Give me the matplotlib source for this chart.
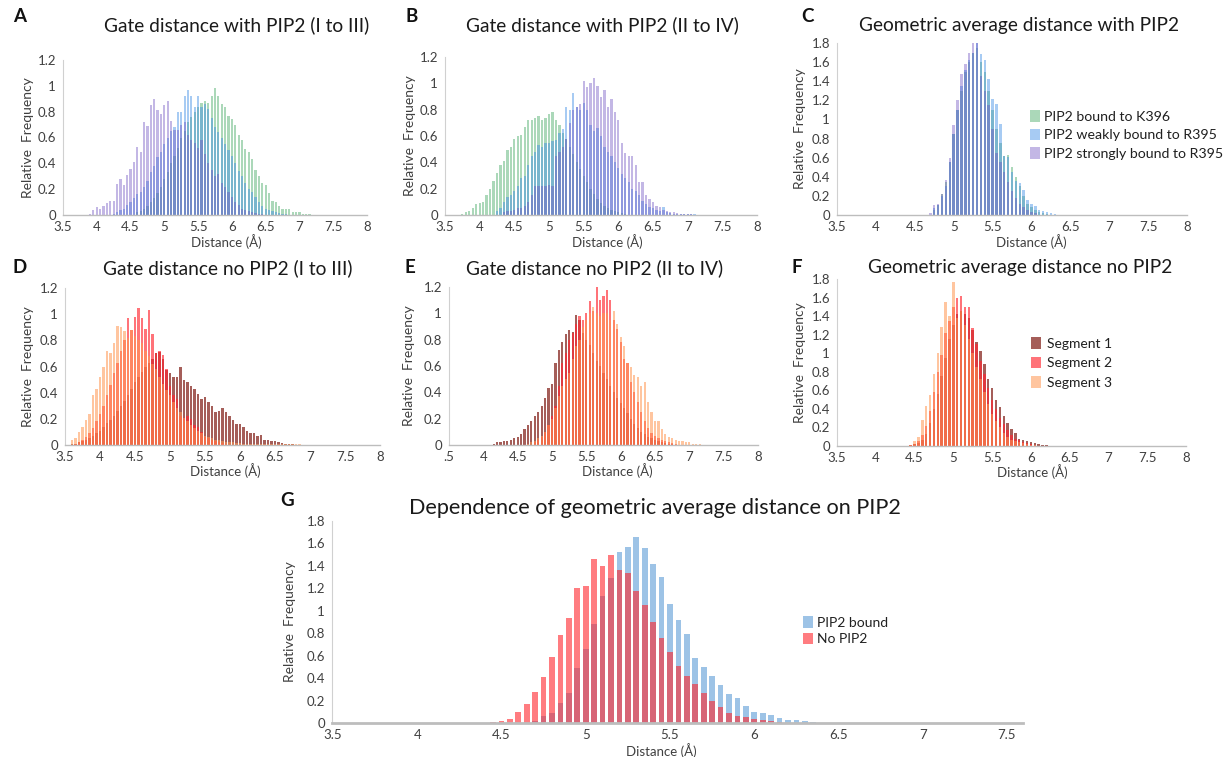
import numpy as np
import matplotlib
matplotlib.use('Agg')
import matplotlib.pyplot as plt

plt.rcParams['font.family'] = ['Lato', 'DejaVu Sans']

W, H = 1228, 757
BIN = 0.05

# ---------------- data (relative frequency per 0.05 Å bin) ----------------
x_ticks = [3.5, 4, 4.5, 5, 5.5, 6, 6.5, 7, 7.5, 8]
x_tick_labels = ['3.5', '4', '4.5', '5', '5.5', '6', '6.5', '7', '7.5', '8']
e_tick_labels = ['.5', '4', '4.5', '5', '5.5', '6', '6.5', '7', '7.5', '8']
g_ticks = [3.5, 4, 4.5, 5, 5.5, 6, 6.5, 7, 7.5]
g_tick_labels = ['3.5', '4', '4.5', '5', '5.5', '6', '6.5', '7', '7.5']
y12_ticks = [0, 0.2, 0.4, 0.6, 0.8, 1.0, 1.2]
y12_labels = ['0', '0.2', '0.4', '0.6', '0.8', '1', '1.2']
y18_ticks = [0, 0.2, 0.4, 0.6, 0.8, 1.0, 1.2, 1.4, 1.6, 1.8]
y18_labels = ['0', '0.2', '0.4', '0.6', '0.8', '1', '1.2', '1.4', '1.6', '1.8']

labels_pip2 = ['PIP2 bound to K396', 'PIP2 weakly bound to R395', 'PIP2 strongly bound to R395']
labels_seg = ['Segment 1', 'Segment 2', 'Segment 3']
labels_g = ['PIP2 bound', 'No PIP2']

# Panel A
A_k396_start = 4.60
A_k396 = [0.02, 0.03, 0.05, 0.07, 0.10, 0.13, 0.17, 0.22, 0.28, 0.33, 0.40, 0.46, 0.52, 0.60, 0.65,
          0.72, 0.76, 0.80, 0.84, 0.87, 0.88, 0.87, 0.92, 0.98, 0.92, 0.86, 0.84, 0.77, 0.74, 0.70,
          0.62, 0.58, 0.51, 0.49, 0.43, 0.35, 0.30, 0.25, 0.23, 0.17, 0.11, 0.10, 0.07, 0.05, 0.045,
          0.045, 0.025, 0.02, 0.02, 0.01, 0.01, 0.005]
A_weak_start = 4.25
A_weak = [0.01, 0.02, 0.04, 0.05, 0.08, 0.10, 0.13, 0.16, 0.18, 0.22, 0.26, 0.33, 0.38, 0.45, 0.49,
          0.55, 0.60, 0.65, 0.68, 0.80, 0.80, 0.92, 0.97, 0.92, 0.84, 0.92, 0.84, 0.86, 0.82, 0.75,
          0.68, 0.64, 0.60, 0.55, 0.50, 0.46, 0.40, 0.34, 0.30, 0.25, 0.20, 0.18, 0.14, 0.10, 0.07,
          0.05, 0.04, 0.03, 0.02, 0.015, 0.01, 0.01]
A_strong_start = 3.90
A_strong = [0.01, 0.04, 0.06, 0.05, 0.07, 0.09, 0.11, 0.11, 0.24, 0.28, 0.23, 0.31, 0.36, 0.41, 0.53,
            0.49, 0.72, 0.69, 0.85, 0.90, 0.81, 0.78, 0.85, 0.88, 0.73, 0.66, 0.66, 0.70, 0.72, 0.62,
            0.58, 0.56, 0.52, 0.58, 0.47, 0.40, 0.35, 0.30, 0.32, 0.25, 0.22, 0.18, 0.14, 0.10, 0.08,
            0.05, 0.04, 0.03, 0.02, 0.015, 0.01, 0.01]

# Panel B
B_k396_start = 3.75
B_k396 = [0.01, 0.02, 0.03, 0.05, 0.08, 0.09, 0.10, 0.15, 0.20, 0.26, 0.32, 0.38, 0.41, 0.49, 0.52,
          0.58, 0.60, 0.61, 0.67, 0.72, 0.72, 0.74, 0.75, 0.72, 0.74, 0.77, 0.78, 0.72, 0.68, 0.62,
          0.58, 0.52, 0.46, 0.40, 0.35, 0.30, 0.25, 0.20, 0.16, 0.12, 0.09, 0.07, 0.05, 0.04, 0.03,
          0.02, 0.015, 0.01]
B_weak_start = 4.25
B_weak = [0.03, 0.05, 0.10, 0.14, 0.15, 0.18, 0.22, 0.28, 0.30, 0.38, 0.45, 0.48, 0.53, 0.52, 0.55,
          0.55, 0.56, 0.57, 0.62, 0.65, 0.82, 0.80, 0.93, 0.82, 0.80, 0.85, 0.80, 0.68, 0.64, 0.66,
          0.60, 0.52, 0.48, 0.45, 0.40, 0.36, 0.31, 0.28, 0.25, 0.20, 0.18, 0.15, 0.11, 0.08, 0.06,
          0.05, 0.04, 0.03, 0.06, 0.02, 0.015, 0.01, 0.01, 0.008, 0.006, 0.005, 0.005, 0.004, 0.003,
          0.003, 0.002, 0.002, 0.002, 0.002, 0.002]
B_strong_start = 4.35
B_strong = [0.02, 0.03, 0.03, 0.04, 0.05, 0.05, 0.07, 0.10, 0.15, 0.22, 0.22, 0.22, 0.22, 0.23, 0.22,
            0.45, 0.48, 0.52, 0.58, 0.70, 0.80, 0.82, 0.84, 1.02, 0.97, 1.00, 1.04, 0.98, 0.90, 0.95,
            0.82, 0.88, 0.78, 0.72, 0.55, 0.47, 0.45, 0.45, 0.38, 0.25, 0.25, 0.15, 0.12, 0.10, 0.07,
            0.06, 0.04, 0.03, 0.02, 0.02, 0.015, 0.01, 0.01, 0.01, 0.005]

# Panel C
C_k396_start = 4.75
C_k396 = [0.05, 0.10, 0.22, 0.35, 0.55, 0.85, 1.10, 1.30, 1.50, 1.60, 1.70, 1.75, 1.60, 1.50, 1.30,
          1.10, 0.90, 0.75, 0.62, 0.63, 0.50, 0.40, 0.30, 0.20, 0.12, 0.08, 0.05, 0.03, 0.02, 0.01]
C_weak_start = 4.75
C_weak = [0.07, 0.10, 0.20, 0.30, 0.55, 0.85, 1.10, 1.35, 1.52, 1.62, 1.70, 1.82, 1.68, 1.62, 1.42,
          1.21, 1.16, 0.95, 0.62, 0.61, 0.45, 0.36, 0.33, 0.26, 0.16, 0.12, 0.09, 0.05, 0.04, 0.03,
          0.02, 0.01, 0.005]
C_strong_start = 4.70
C_strong = [0.02, 0.10, 0.11, 0.22, 0.37, 0.60, 0.94, 1.20, 1.48, 1.58, 1.70, 1.82, 1.82, 1.45, 1.30,
            1.15, 0.90, 0.65, 0.55, 0.45, 0.35, 0.25, 0.18, 0.12, 0.08, 0.05, 0.03, 0.02]

# Panel D
D_seg1_start = 3.60
D_seg1 = [0.01, 0.01, 0.02, 0.03, 0.04, 0.05, 0.07, 0.09, 0.11, 0.14, 0.17, 0.19, 0.22, 0.26, 0.30,
          0.34, 0.38, 0.43, 0.48, 0.52, 0.56, 0.60, 0.63, 0.66, 0.70, 0.71, 0.66, 0.57, 0.55, 0.52,
          0.52, 0.60, 0.50, 0.48, 0.45, 0.43, 0.39, 0.35, 0.37, 0.33, 0.30, 0.25, 0.26, 0.28, 0.25,
          0.22, 0.19, 0.16, 0.16, 0.14, 0.11, 0.09, 0.09, 0.07, 0.08, 0.04, 0.04, 0.03, 0.03, 0.02,
          0.015, 0.01, 0.01, 0.005]
D_seg2_start = 3.65
D_seg2 = [0.01, 0.02, 0.04, 0.06, 0.09, 0.13, 0.18, 0.24, 0.30, 0.38, 0.46, 0.55, 0.63, 0.72, 0.80,
          0.97, 0.88, 0.98, 1.05, 0.97, 0.89, 1.03, 0.85, 0.70, 0.72, 0.69, 0.58, 0.45, 0.38, 0.35,
          0.22, 0.21, 0.22, 0.20, 0.15, 0.14, 0.10, 0.06, 0.05, 0.04, 0.03, 0.02, 0.015, 0.01]
D_seg3_start = 3.50
D_seg3 = [0.01, 0.0, 0.04, 0.05, 0.10, 0.14, 0.19, 0.24, 0.38, 0.43, 0.52, 0.60, 0.72, 0.70, 0.78,
          0.91, 0.90, 0.87, 0.82, 0.88, 0.83, 0.80, 0.78, 0.72, 0.68, 0.62, 0.58, 0.52, 0.47, 0.42,
          0.38, 0.33, 0.28, 0.25, 0.21, 0.18, 0.15, 0.13, 0.11, 0.09, 0.07, 0.06, 0.05, 0.04, 0.035,
          0.03, 0.025, 0.02, 0.02, 0.015, 0.015, 0.01, 0.01, 0.01, 0.008, 0.005, 0.005, 0.005, 0.005,
          0.005, 0.005, 0.005, 0.005, 0.005, 0.005, 0.005, 0.005, 0.005]

# Panel E
E_seg1_start = 4.15
E_seg1 = [0.01, 0.02, 0.02, 0.03, 0.03, 0.04, 0.05, 0.06, 0.08, 0.12, 0.15, 0.18, 0.22, 0.25, 0.30,
          0.36, 0.43, 0.46, 0.62, 0.72, 0.78, 0.84, 0.87, 0.86, 0.99, 0.95, 0.85, 0.80, 0.76, 0.70,
          0.64, 0.60, 0.55, 0.50, 0.45, 0.40, 0.36, 0.32, 0.28, 0.24, 0.20, 0.16, 0.13, 0.10, 0.08,
          0.06, 0.05, 0.04, 0.03, 0.02, 0.015, 0.01, 0.01]
E_seg2_start = 4.75
E_seg2 = [0.02, 0.04, 0.06, 0.10, 0.15, 0.22, 0.30, 0.45, 0.62, 0.70, 0.80, 0.85, 0.92, 0.98, 0.95,
          1.00, 1.09, 1.02, 1.20, 1.10, 1.13, 1.18, 1.10, 0.95, 0.88, 0.78, 0.65, 0.62, 0.48, 0.40,
          0.33, 0.25, 0.18, 0.13, 0.09, 0.07, 0.05, 0.04, 0.03, 0.02, 0.015, 0.01]
E_seg3_start = 4.65
E_seg3 = [0.01, 0.02, 0.03, 0.05, 0.07, 0.10, 0.15, 0.20, 0.28, 0.37, 0.45, 0.50, 0.55, 0.65, 0.75,
          0.80, 0.90, 0.95, 1.00, 1.05, 1.00, 0.98, 1.00, 1.00, 0.95, 1.02, 0.92, 0.82, 0.75, 0.62,
          0.59, 0.53, 0.52, 0.45, 0.48, 0.33, 0.25, 0.18, 0.18, 0.12, 0.08, 0.06, 0.05, 0.04, 0.03,
          0.03, 0.02, 0.02, 0.01, 0.005, 0.01]

# Panel F
F_seg1_start = 4.45
F_seg1 = [0.01, 0.02, 0.03, 0.06, 0.13, 0.25, 0.40, 0.56, 0.75, 0.95, 1.15, 1.30, 1.42, 1.45, 1.42,
          1.38, 1.25, 1.12, 1.02, 0.88, 0.72, 0.62, 0.50, 0.42, 0.32, 0.25, 0.18, 0.14, 0.08, 0.06,
          0.05, 0.04, 0.03, 0.02, 0.015, 0.01, 0.005]
F_seg2_start = 4.45
F_seg2 = [0.01, 0.02, 0.05, 0.12, 0.22, 0.38, 0.58, 0.80, 0.98, 1.22, 1.35, 1.50, 1.60, 1.62, 1.50,
          1.50, 1.27, 1.10, 0.92, 0.78, 0.62, 0.50, 0.40, 0.30, 0.24, 0.17, 0.12, 0.08, 0.06, 0.04,
          0.03, 0.02, 0.01]
F_seg3_start = 4.45
F_seg3 = [0.01, 0.05, 0.10, 0.28, 0.43, 0.55, 0.78, 1.00, 1.28, 1.55, 1.40, 1.77, 1.38, 1.45, 1.30,
          1.15, 1.00, 0.85, 0.72, 0.58, 0.45, 0.35, 0.27, 0.20, 0.14, 0.10, 0.07, 0.05, 0.04, 0.03,
          0.02, 0.01, 0.01]

# Panel G
G_bound_start = 4.70
G_bound = [0.02, 0.06, 0.09, 0.18, 0.27, 0.49, 0.66, 0.88, 1.13, 1.29, 1.52, 1.57, 1.66, 1.56, 1.42,
           1.30, 1.06, 0.92, 0.79, 0.58, 0.50, 0.42, 0.34, 0.26, 0.22, 0.15, 0.10, 0.09, 0.07, 0.045,
           0.03, 0.025, 0.015, 0.008]
G_none_start = 4.45
G_none = [0.005, 0.015, 0.04, 0.10, 0.17, 0.28, 0.41, 0.59, 0.78, 0.94, 1.20, 1.22, 1.46, 1.40, 1.50,
          1.36, 1.34, 1.18, 1.05, 0.90, 0.76, 0.63, 0.51, 0.42, 0.35, 0.27, 0.20, 0.14, 0.09, 0.06,
          0.05, 0.04, 0.03, 0.015, 0.005]

# ---------------- styles ----------------
pip2_colors = ['#46aa64', '#3c8ce6', '#6a4cc0']
pip2_alpha = [0.45, 0.45, 0.40]
seg_colors = ['#a05550', '#ff2832', '#ff9650']
seg_alpha = [0.95, 0.65, 0.55]
g_colors = ['#9dc3e6', '#ff252b']
g_alpha = [1.0, 0.6]
TXT = '#404040'
TICK_FS = 9.5


def centers(start, vals):
    return start + BIN * np.arange(len(vals))


fig = plt.figure(figsize=(W / 100, H / 100), dpi=100)


def px_axes(x0, ytop, x1, ybot):
    return fig.add_axes([x0 / W, 1 - ybot / H, (x1 - x0) / W, (ybot - ytop) / H])


def style(ax, ymax, yt, ytl, xt, xtl, xlim, ylab_x, xlab_x, xlab_y, bottom_lw=1.0):
    ax.set_xlim(*xlim)
    ax.set_ylim(0, ymax)
    ax.set_xticks(xt)
    ax.set_xticklabels(xtl)
    ax.set_yticks(yt)
    ax.set_yticklabels(ytl)
    for s in ['top', 'right']:
        ax.spines[s].set_visible(False)
    ax.spines['left'].set_color('#d0d0d0')
    ax.spines['left'].set_linewidth(0.8)
    ax.spines['bottom'].set_color('#bdbdbd')
    ax.spines['bottom'].set_linewidth(bottom_lw)
    ax.tick_params(axis='x', length=0, labelsize=TICK_FS, labelcolor=TXT, pad=4)
    ax.tick_params(axis='y', length=0, labelsize=TICK_FS, labelcolor=TXT, pad=5)
    ax.set_ylabel('Relative  Frequency', fontsize=10, color=TXT)
    ax.yaxis.set_label_coords(ylab_x, 0.5)
    ax.set_xlabel('Distance (Å)', fontsize=9.5, color=TXT)
    ax.xaxis.set_label_coords(xlab_x, xlab_y)


def bars(ax, series, colors, alphas, labels, width=0.032):
    handles = []
    for (start, vals), c, a, lab in zip(series, colors, alphas, labels):
        h = ax.bar(centers(start, vals), vals, width=width, color=c, alpha=a,
                   linewidth=0, label=lab)
        handles.append(h)
    return handles


XL = (3.5, 8.0)
LEG = dict(frameon=False, handlelength=0.7, handleheight=0.9, handletextpad=0.3,
           borderpad=0, borderaxespad=0, labelcolor='#202020')

# A
axA = px_axes(63, 60, 367, 215)
bars(axA, [(A_k396_start, A_k396), (A_weak_start, A_weak), (A_strong_start, A_strong)],
     pip2_colors, pip2_alpha, labels_pip2)
style(axA, 1.2, y12_ticks, y12_labels, x_ticks, x_tick_labels, XL, -0.095, 0.536, -0.12)

# B
axB = px_axes(445, 57, 757, 215)
bars(axB, [(B_k396_start, B_k396), (B_weak_start, B_weak), (B_strong_start, B_strong)],
     pip2_colors, pip2_alpha, labels_pip2)
style(axB, 1.2, y12_ticks, y12_labels, x_ticks, x_tick_labels, XL, -0.093, 0.52, -0.118)

# C
axC = px_axes(837, 43, 1187, 215)
bars(axC, [(C_k396_start, C_k396), (C_weak_start, C_weak), (C_strong_start, C_strong)],
     pip2_colors, pip2_alpha, labels_pip2)
style(axC, 1.8, y18_ticks, y18_labels, x_ticks, x_tick_labels, XL, -0.089, 0.554, -0.113)
axC.legend(loc='upper left', bbox_to_anchor=(1030 / W, 1 - 110 / H), bbox_transform=fig.transFigure,
           fontsize=10.2, labelspacing=0.42, **LEG)

# D
axD = px_axes(65, 288, 380, 445)
bars(axD, [(D_seg1_start, D_seg1), (D_seg2_start, D_seg2), (D_seg3_start, D_seg3)],
     seg_colors, seg_alpha, labels_seg)
style(axD, 1.2, y12_ticks, y12_labels, x_ticks, x_tick_labels, XL, -0.098, 0.51, -0.118)

# E
axE = px_axes(449, 287, 758, 445)
bars(axE, [(E_seg1_start, E_seg1), (E_seg2_start, E_seg2), (E_seg3_start, E_seg3)],
     seg_colors, seg_alpha, labels_seg)
style(axE, 1.2, y12_ticks, y12_labels, x_ticks, e_tick_labels, XL, -0.110, 0.544, -0.117)

# F
axF = px_axes(837, 279, 1186, 446)
bars(axF, [(F_seg1_start, F_seg1), (F_seg2_start, F_seg2), (F_seg3_start, F_seg3)],
     seg_colors, seg_alpha, labels_seg)
style(axF, 1.8, y18_ticks, y18_labels, x_ticks, x_tick_labels, XL, -0.089, 0.559, -0.105)
axF.legend(loc='upper left', bbox_to_anchor=(1031 / W, 1 - 337 / H), bbox_transform=fig.transFigure,
           fontsize=10, labelspacing=0.5, **{**LEG, 'handletextpad': 0.45})

# G
axG = px_axes(332, 521, 1023, 723)
bars(axG, [(G_bound_start, G_bound), (G_none_start, G_none)], g_colors, g_alpha, labels_g,
     width=0.034)
style(axG, 1.8, y18_ticks, y18_labels, g_ticks, g_tick_labels, (3.494, 7.595), -0.052, 0.476,
      -0.1, bottom_lw=2.0)
axG.legend(loc='upper left', bbox_to_anchor=(803 / W, 1 - 616 / H), bbox_transform=fig.transFigure,
           fontsize=10, labelspacing=0.3, **LEG)

# titles and panel letters
titles = [
    (237, 25, 'Gate distance with PIP2 (I to III)', 13.8),
    (602, 25, 'Gate distance with PIP2 (II to IV)', 13.8),
    (1019, 25, 'Geometric average distance with PIP2', 13.8),
    (228, 268, 'Gate distance no PIP2 (I to III)', 13.8),
    (595, 268, 'Gate distance no PIP2 (II to IV)', 13.8),
    (1020, 268, 'Geometric average distance no PIP2', 13.8),
    (655, 508, 'Dependence of geometric average distance on PIP2', 15.6),
]
for x, y, t, fs in titles:
    fig.text(x / W, 1 - y / H, t, ha='center', va='center', fontsize=fs, color='#1a1a1a')

letters = [(20, 16, 'A'), (412, 16, 'B'), (808, 16, 'C'), (20, 268, 'D'), (410, 268, 'E'),
           (797, 268, 'F'), (287, 500, 'G')]
for x, y, t in letters:
    fig.text(x / W, 1 - y / H, t, ha='center', va='center', fontsize=13.5, fontweight='bold',
             color='#111111')

fig.savefig('out.png', dpi=100)
